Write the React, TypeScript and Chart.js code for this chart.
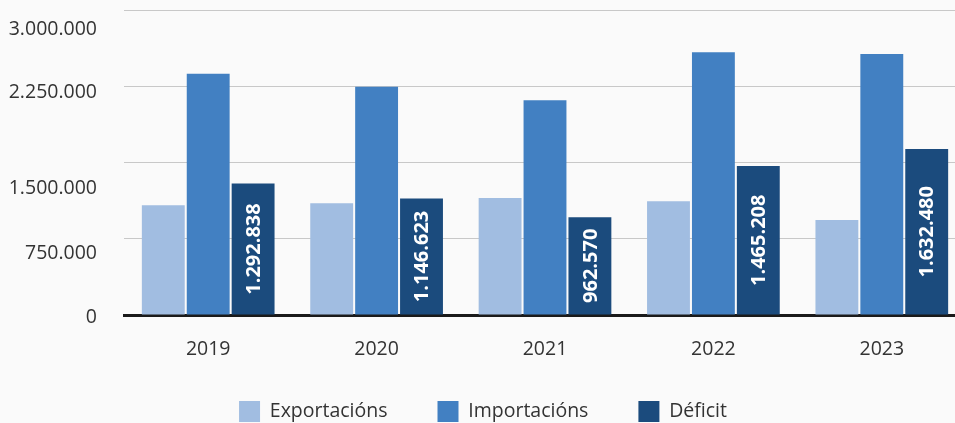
import React, { useEffect, useRef } from "react";
import { Chart, registerables } from "chart.js";

Chart.register(...registerables);

const years = ["2019", "2020", "2021", "2022", "2023"];
const seriesNames = ["Exportacións", "Importacións", "Déficit"];
const exportacions = [1080000, 1098000, 1150000, 1120000, 935000];
const importacions = [2373000, 2245000, 2112000, 2585000, 2567000];
const deficit = [1292838, 1146623, 962570, 1465208, 1632480];
const yTickValues = [0, 750000, 1500000, 2250000, 3000000];
const yTickLabels = ["0", "750.000", "1.500.000", "2.250.000", "3.000.000"];

const colors = ["#a1bde1", "#4280c2", "#1b4b7d"];
const FONT = "'Open Sans', 'Noto Sans', sans-serif";
const TEXT = "#333333";

function fmt(n: number): string {
  return String(n).replace(/\B(?=(\d{3})+(?!\d))/g, ".");
}

const yLabelNudge = [2, 15, 26, 6, 19];

const axisLabelsPlugin = {
  id: "axisLabels",
  afterDraw(chart: any) {
    const { ctx, scales } = chart;
    const y = scales.y;
    const x = scales.x;
    ctx.save();
    ctx.font = `19.5px ${FONT}`;
    ctx.fillStyle = TEXT;
    ctx.textBaseline = "middle";
    ctx.textAlign = "right";
    yTickValues.forEach((v, i) => {
      ctx.fillText(yTickLabels[i], 97, y.getPixelForValue(v) + yLabelNudge[i]);
    });
    ctx.textAlign = "center";
    years.forEach((lab, i) => {
      ctx.fillText(lab, x.getPixelForValue(i), x.top + 34);
    });
    ctx.restore();
  },
};

const barLabelsPlugin = {
  id: "barLabels",
  afterDatasetsDraw(chart: any) {
    const { ctx } = chart;
    const meta = chart.getDatasetMeta(2);
    ctx.save();
    ctx.font = `bold 20px ${FONT}`;
    ctx.fillStyle = "#ffffff";
    ctx.textAlign = "center";
    ctx.textBaseline = "middle";
    meta.data.forEach((bar: any, i: number) => {
      const cx = bar.x;
      const cy = (bar.y + bar.base) / 2;
      ctx.save();
      ctx.translate(cx, cy);
      ctx.rotate(-Math.PI / 2);
      ctx.fillText(fmt(deficit[i]), 0, 1);
      ctx.restore();
    });
    ctx.restore();
  },
};

export default function App() {
  const ref = useRef<HTMLCanvasElement | null>(null);

  useEffect(() => {
    if (!ref.current) return;
    const chart = new Chart(ref.current, {
      type: "bar",
      data: {
        labels: years,
        datasets: [
          { label: seriesNames[0], data: exportacions, backgroundColor: colors[0] },
          { label: seriesNames[1], data: importacions, backgroundColor: colors[1] },
          { label: seriesNames[2], data: deficit, backgroundColor: colors[2] },
        ],
      },
      options: {
        responsive: false,
        animation: false,
        devicePixelRatio: 1,
        layout: { padding: { top: 10, left: 0, right: 0, bottom: 0 } },
        datasets: {
          bar: { categoryPercentage: 0.8, barPercentage: 0.955, borderWidth: 0 },
        },
        plugins: {
          tooltip: { enabled: false },
          legend: {
            position: "bottom",
            labels: {
              boxWidth: 21,
              boxHeight: 21,
              padding: 50,
              color: TEXT,
              font: { family: FONT, size: 19.5 },
            },
          },
        },
        scales: {
          x: {
            z: 1,
            grid: { display: false, drawTicks: false },
            border: { display: true, color: "#1a1a1a", width: 3 },
            ticks: { display: false },
            afterFit: (scale: any) => {
              scale.height = 36;
            },
          },
          y: {
            min: 0,
            max: 3000000,
            ticks: { display: false, stepSize: 750000 },
            grid: {
              drawTicks: false,
              color: (c: any) => (c.tick && c.tick.value === 0 ? "rgba(0,0,0,0)" : "#c8c8c8"),
              lineWidth: 1,
            },
            border: { display: false },
            afterFit: (scale: any) => {
              scale.width = 124;
            },
          },
        },
      },
      plugins: [axisLabelsPlugin, barLabelsPlugin],
    });
    return () => chart.destroy();
  }, []);

  return (
    <div
      style={{
        position: "absolute",
        left: 0,
        top: 0,
        width: 955,
        height: 423,
        overflow: "hidden",
        background: "#fafafa",
      }}
    >
      <canvas ref={ref} width={966} height={432} style={{ display: "block", width: 966, height: 432 }} />
    </div>
  );
}
